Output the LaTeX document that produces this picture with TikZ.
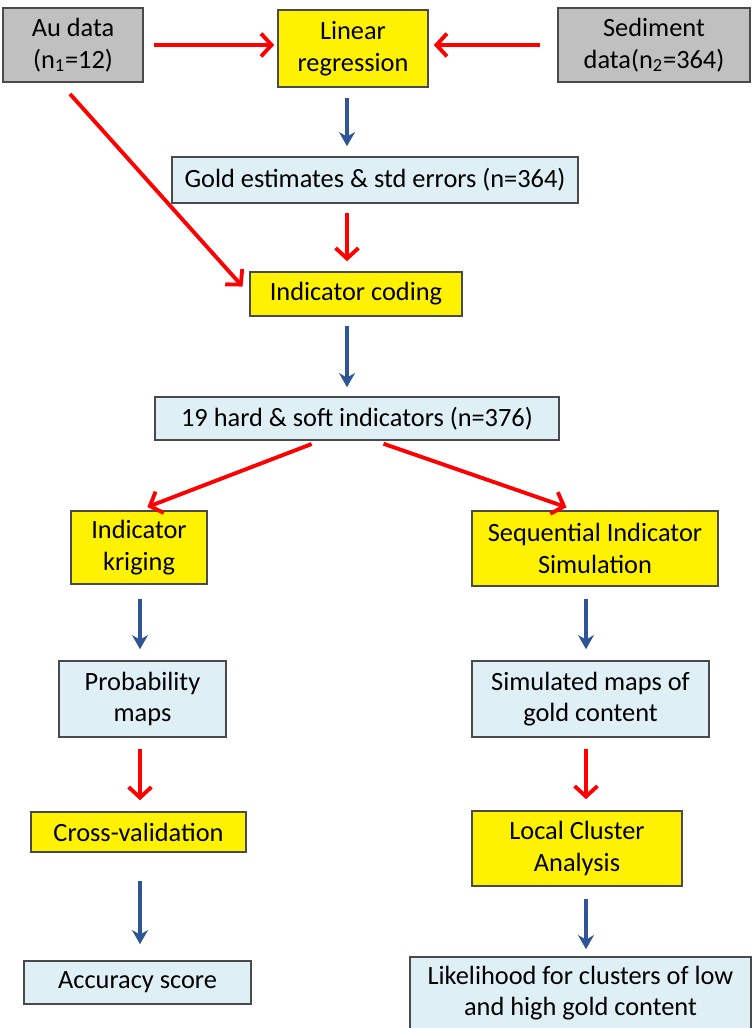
\documentclass[tikz,border=0pt]{standalone}
\usepackage{fontspec}
\setmainfont{Carlito}
\usetikzlibrary{arrows.meta}
\definecolor{boxgray}{HTML}{C0C0C0}
\definecolor{boxblue}{HTML}{DEEFF5}
\definecolor{edgegray}{HTML}{4A4A4A}
\definecolor{arrowblue}{HTML}{2F5597}
\begin{document}
\begin{tikzpicture}[
    box/.style={draw=edgegray, line width=0.9pt, align=center, inner sep=0pt,
      font=\fontsize{15}{18}\selectfont},
    datbox/.style={box, fill=boxgray},
    yelbox/.style={box, fill=yellow},
    resbox/.style={box, fill=boxblue},
    redarr/.style={draw=red, line width=2.2pt, -{Straight Barb[length=6pt,width=13pt]}},
    bluearr/.style={draw=arrowblue, line width=2pt, -{Stealth[length=8pt,width=9pt,inset=2.5pt]}}
  ]
  \useasboundingbox (0,0) rectangle (15.06,-20.56);

  \node[datbox, minimum width=2.80cm, minimum height=1.48cm](au) at ( 1.46, -0.90){Au data\\(n\textsubscript{1}=12)};
  \node[yelbox, minimum width=3.00cm, minimum height=1.54cm](lin) at ( 7.06, -0.97){Linear\\regression};
  \node[datbox, minimum width=3.84cm, minimum height=1.48cm](sed) at (13.08, -0.90){Sediment\\data(n\textsubscript{2}=364)};
  \node[resbox, minimum width=8.12cm, minimum height=0.92cm](gold) at ( 7.50, -3.60){Gold estimates \& std errors (n=364)};
  \node[yelbox, minimum width=4.24cm, minimum height=0.88cm](ic) at ( 7.12, -5.88){Indicator coding};
  \node[resbox, minimum width=8.08cm, minimum height=0.86cm](hs) at ( 7.14, -8.37){19 hard \& soft indicators (n=376)};
  \node[yelbox, minimum width=2.72cm, minimum height=1.46cm](ik) at ( 2.78,-10.95){Indicator\\kriging};
  \node[yelbox, minimum width=4.92cm, minimum height=1.50cm](sis) at (11.90,-10.97){Sequential Indicator\\Simulation};
  \node[resbox, minimum width=3.34cm, minimum height=1.52cm](pm) at ( 2.85,-13.98){Probability\\maps};
  \node[resbox, minimum width=4.74cm, minimum height=1.52cm](sim) at (11.81,-13.98){Simulated maps of\\gold content};
  \node[yelbox, minimum width=4.30cm, minimum height=0.80cm](cv) at ( 2.77,-16.64){Cross-validation};
  \node[yelbox, minimum width=4.20cm, minimum height=1.50cm](lca) at (11.54,-16.97){Local Cluster\\Analysis};
  \node[resbox, minimum width=4.54cm, minimum height=0.86cm](acc) at ( 2.75,-19.65){Accuracy score};
  \node[resbox, minimum width=6.82cm, minimum height=1.44cm](lik) at (11.61,-19.86){Likelihood for clusters of low\\and high gold content};

  % arrow columns
  \coordinate (mcol) at ( 6.94,0);
  \coordinate (lcol) at ( 2.80,0);
  \coordinate (rcol) at (11.72,0);

  \draw[redarr, shorten <=0.2cm, shorten >=0.06cm] (au.east) -- (au.east -| lin.west);
  \draw[redarr, shorten <=0.34cm, shorten >=0.1cm] (sed.west) -- (sed.west -| lin.east);
  \draw[redarr, shorten <=0.3cm, shorten >=0.2cm] ([xshift=-0.26cm]au.south) -- (ic.west);
  \draw[bluearr, shorten <=0.2cm, shorten >=0.2cm] (lin.south -| mcol) -- (gold.north -| mcol);
  \draw[redarr, shorten <=0.18cm, shorten >=0.2cm] (gold.south -| mcol) -- (ic.north -| mcol);
  \draw[bluearr, shorten <=0.18cm, shorten >=0.18cm] (ic.south -| mcol) -- (hs.north -| mcol);
  \draw[redarr, shorten <=0.18cm, shorten >=0.18cm] ([xshift=-0.74cm]hs.south) -- (ik.north);
  \draw[redarr, shorten <=0.18cm, shorten >=0.18cm] ([xshift=0.36cm]hs.south) -- ([xshift=-0.4cm]sis.north);
  \draw[bluearr, shorten <=0.28cm, shorten >=0.22cm] (ik.south -| lcol) -- (pm.north -| lcol);
  \draw[bluearr, shorten <=0.24cm, shorten >=0.22cm] (sis.south -| rcol) -- (sim.north -| rcol);
  \draw[redarr, shorten <=0.22cm, shorten >=0.22cm] (pm.south -| lcol) -- (cv.north -| lcol);
  \draw[redarr, shorten <=0.22cm, shorten >=0.22cm] (sim.south -| rcol) -- (lca.north -| rcol);
  \draw[bluearr, shorten <=0.56cm, shorten >=0.32cm] (cv.south -| lcol) -- (acc.north -| lcol);
  \draw[bluearr, shorten <=0.24cm, shorten >=0.14cm] (lca.south -| rcol) -- (lik.north -| rcol);
\end{tikzpicture}
\end{document}
